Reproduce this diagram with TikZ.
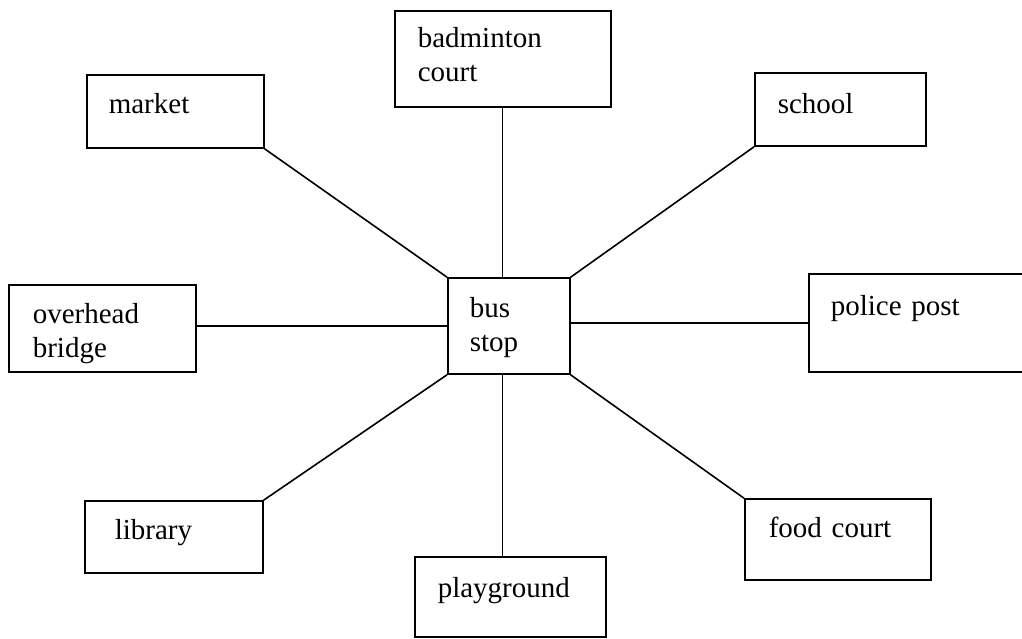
\documentclass[tikz,border=0pt]{standalone}
\usepackage{fontspec}
\setmainfont{Liberation Serif}
\usepackage{tikz}
\usetikzlibrary{positioning}
\usetikzlibrary{calc}

\tikzset{
  place/.style={draw, line width=1.6pt, anchor=base west, align=left,
    inner ysep=0pt, font=\fontsize{29}{34}\selectfont},
  link/.style={line width=1.6pt},
  thinlink/.style={line width=1.1pt}
}

\begin{document}
\begin{tikzpicture}[x=1pt, y=-1pt]

    \clip (0,0) rectangle (1022,638);

    \node[place, inner xsep=22pt, text width=133pt, text height=38pt, text depth=35pt] (market) at (86,113) {market};
    \node[place, inner xsep=23pt, text width=170pt, text height=36pt, text depth=60pt] (badminton) at (394,47) {badminton\\court};
    \node[place, inner xsep=23pt, text width=125pt, text height=40pt, text depth=33pt] (school) at (754,113) {school};

    \node[place, inner xsep=24pt, text width=139pt, text height=38pt, text depth=49pt] (bridge) at (8,323) {overhead\\bridge};
    \node[place, inner xsep=22pt, text width=78pt, text height=39pt, text depth=57pt] (bus) at (447,317) {bus\\stop};
    \node[place, inner xsep=22pt, text width=196pt, text height=41pt, text depth=57pt] (police) at (808,315) {police post};

    \node[place, inner xsep=30pt, text width=118pt, text height=38pt, text depth=34pt] (library) at (84,539) {library};
    \node[place, inner xsep=23pt, text width=145pt, text height=40pt, text depth=40pt] (playground) at (414,597) {playground};
    \node[place, inner xsep=24pt, text width=138pt, text height=38pt, text depth=43pt] (food) at (744,537) {food court};

    % corner links
    \draw[link] (market.south east) -- (bus.north west);
    \draw[link] (school.south west) -- (bus.north east);
    \draw[link] (library.north east) -- (bus.south west);
    \draw[link] (food.north west) -- (bus.south east);

    % straight links
    \draw[link] (bridge.east |- bus.west) -- (bus.west);
    \draw[link] (bus.east |- police.west) -- (police.west);
    \draw[thinlink] (badminton.south) -- (badminton.south |- bus.north);
    \draw[thinlink] (bus.south -| badminton.south) -- (playground.north -| badminton.south);

\end{tikzpicture}
\end{document}
